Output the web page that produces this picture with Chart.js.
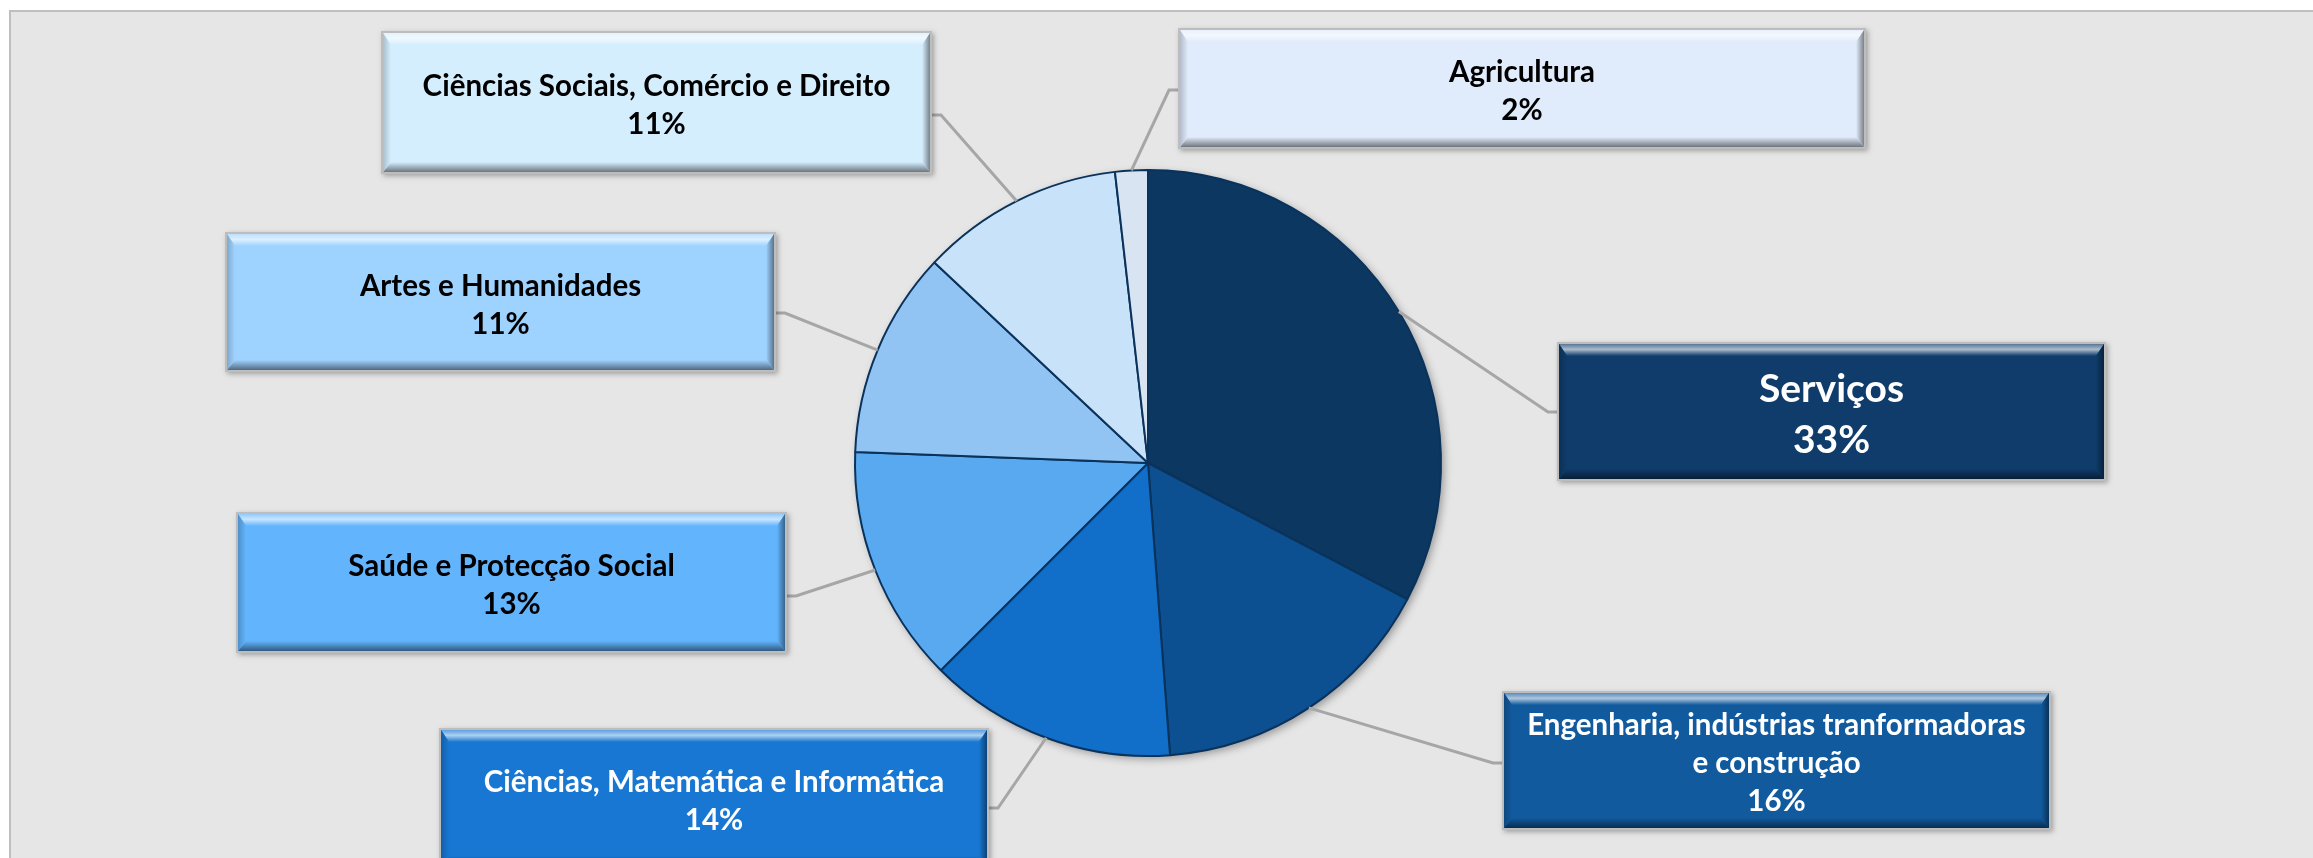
<!DOCTYPE html>
<html>
<head>
<meta charset="utf-8">
<title>Distribuição por área de formação</title>
<script src="https://cdn.jsdelivr.net/npm/chart.js@4.4.0/dist/chart.umd.min.js"></script>
<style>
  html, body { margin: 0; padding: 0; background: #ffffff; }
  #wrap { width: 2313px; height: 858px; }
</style>
</head>
<body>
<div id="wrap"><canvas id="pieChart" width="2313" height="858"></canvas></div>
<script>
// Areas, clockwise from 12 o'clock
const categories = [
    'Serviços',
    'Engenharia, indústrias tranformadoras e construção',
    'Ciências, Matemática e Informática',
    'Saúde e Protecção Social',
    'Artes e Humanidades',
    'Ciências Sociais, Comércio e Direito',
    'Agricultura'
];

// Share of each area (%)
const shares = [32.7, 16.1, 13.7, 13.1, 11.4, 11.2, 1.8];

// Colours
const sliceColors = ['#0b3761', '#0c5092', '#116fc9', '#58a9f0', '#91c3f3', '#c8e2fa', '#d9e4f2'];
const boxColors = ['#0f3c6b', '#115a9e', '#1777d2', '#62b4fd', '#9fd3ff', '#d5eefe', '#e0ebfb'];
const textColors = ['#ffffff', '#ffffff', '#ffffff', '#000000', '#000000', '#000000', '#000000'];

// Where the label boxes sit (pixels), which side the leader leaves from
const boxLayout = [
    { x: 1559, y: 344, w: 545, h: 135, side: 'left',  ay: 412, font: 39,   lh: 51, wrap: 520 },
    { x: 1504, y: 693, w: 545, h: 135, side: 'left',  ay: 763, font: 29.5, lh: 38, wrap: 518 },
    { x: 441,  y: 730, w: 546, h: 136, side: 'right', ay: 808, font: 29.5, lh: 38, wrap: 520 },
    { x: 238,  y: 514, w: 547, h: 137, side: 'right', ay: 596, font: 29.5, lh: 38, wrap: 520 },
    { x: 227,  y: 234, w: 547, h: 136, side: 'right', ay: 313, font: 29.5, lh: 38, wrap: 520 },
    { x: 383,  y: 33,  w: 547, h: 139, side: 'right', ay: 115, font: 29.5, lh: 38, wrap: 520 },
    { x: 1180, y: 30,  w: 684, h: 117, side: 'left',  ay: 90,  font: 29.5, lh: 38, wrap: 650 }
];

const FONT_FAMILY = 'Lato, "Open Sans", sans-serif';

function mix(hex, target, t) {
    const a = parseInt(hex.slice(1), 16);
    const r = (a >> 16) & 255, g = (a >> 8) & 255, b = a & 255;
    const tv = target === 'white' ? 255 : 0;
    return `rgb(${Math.round(r + (tv - r) * t)}, ${Math.round(g + (tv - g) * t)}, ${Math.round(b + (tv - b) * t)})`;
}

function poly(ctx, pts, fill) {
    ctx.beginPath();
    ctx.moveTo(pts[0][0], pts[0][1]);
    for (let i = 1; i < pts.length; i++) ctx.lineTo(pts[i][0], pts[i][1]);
    ctx.closePath();
    ctx.fillStyle = fill;
    ctx.fill();
}

function drawBevelBox(ctx, b, color) {
    const { x, y, w, h } = b;
    const bt = 12, bb = 10, bs = 8;

    // frame + soft shadow
    ctx.save();
    ctx.shadowColor = 'rgba(0, 0, 0, 0.3)';
    ctx.shadowBlur = 5;
    ctx.shadowOffsetX = 2;
    ctx.shadowOffsetY = 2;
    ctx.fillStyle = '#bdbdbd';
    ctx.fillRect(x - 2, y - 2, w + 4, h + 4);
    ctx.restore();

    ctx.fillStyle = color;
    ctx.fillRect(x, y, w, h);

    // top bevel
    let g = ctx.createLinearGradient(0, y, 0, y + bt);
    g.addColorStop(0, mix(color, 'white', 0.3));
    g.addColorStop(0.45, mix(color, 'white', 0.65));
    g.addColorStop(1, color);
    poly(ctx, [[x, y], [x + w, y], [x + w - bs, y + bt], [x + bs, y + bt]], g);

    // bottom bevel
    g = ctx.createLinearGradient(0, y + h - bb, 0, y + h);
    g.addColorStop(0, color);
    g.addColorStop(1, mix(color, 'black', 0.5));
    poly(ctx, [[x, y + h], [x + w, y + h], [x + w - bs, y + h - bb], [x + bs, y + h - bb]], g);

    // left bevel
    g = ctx.createLinearGradient(x, 0, x + bs, 0);
    g.addColorStop(0, mix(color, 'black', 0.2));
    g.addColorStop(1, color);
    poly(ctx, [[x, y], [x + bs, y + bt], [x + bs, y + h - bb], [x, y + h]], g);

    // right bevel
    g = ctx.createLinearGradient(x + w - bs, 0, x + w, 0);
    g.addColorStop(0, color);
    g.addColorStop(1, mix(color, 'black', 0.45));
    poly(ctx, [[x + w, y], [x + w - bs, y + bt], [x + w - bs, y + h - bb], [x + w, y + h]], g);
}

function wrapText(ctx, text, maxWidth) {
    const words = text.split(' ');
    const lines = [];
    let line = '';
    words.forEach(word => {
        const test = line ? line + ' ' + word : word;
        if (ctx.measureText(test).width > maxWidth && line) {
            lines.push(line);
            line = word;
        } else {
            line = test;
        }
    });
    if (line) lines.push(line);
    return lines;
}

// Grey chart area with its thin frame
const backgroundPlugin = {
    id: 'chartBackground',
    beforeDraw(chart) {
        const ctx = chart.ctx;
        ctx.save();
        ctx.fillStyle = '#ffffff';
        ctx.fillRect(0, 0, chart.width, chart.height);
        ctx.fillStyle = '#e6e6e6';
        ctx.fillRect(10, 11, chart.width, chart.height);
        ctx.strokeStyle = '#bfbfbf';
        ctx.lineWidth = 2;
        ctx.strokeRect(10, 11, chart.width + 20, chart.height + 20);
        ctx.restore();
    }
};

// Soft shadow behind the pie
const pieShadowPlugin = {
    id: 'pieShadow',
    beforeDatasetsDraw(chart) {
        const arc = chart.getDatasetMeta(0).data[0];
        if (!arc) return;
        const ctx = chart.ctx;
        ctx.save();
        ctx.shadowColor = 'rgba(0, 0, 0, 0.35)';
        ctx.shadowBlur = 8;
        ctx.shadowOffsetX = 3;
        ctx.shadowOffsetY = 3;
        ctx.beginPath();
        ctx.arc(arc.x, arc.y, arc.outerRadius, 0, Math.PI * 2);
        ctx.fillStyle = sliceColors[0];
        ctx.fill();
        ctx.restore();
    }
};

// Leader lines + bevelled label boxes
const calloutPlugin = {
    id: 'callouts',
    afterDatasetsDraw(chart) {
        const ctx = chart.ctx;
        const meta = chart.getDatasetMeta(0);
        const values = chart.data.datasets[0].data;
        const total = values.reduce((a, b) => a + b, 0);

        ctx.save();
        // leader lines first
        meta.data.forEach((arc, i) => {
            const b = boxLayout[i];
            const mid = (arc.startAngle + arc.endAngle) / 2;
            const px = arc.x + Math.cos(mid) * arc.outerRadius;
            const py = arc.y + Math.sin(mid) * arc.outerRadius;
            const bx = b.side === 'left' ? b.x : b.x + b.w;
            const kx = b.side === 'left' ? bx - 11 : bx + 11;
            ctx.beginPath();
            ctx.moveTo(bx, b.ay);
            ctx.lineTo(kx, b.ay);
            ctx.lineTo(px, py);
            ctx.strokeStyle = '#a6a6a6';
            ctx.lineWidth = 3;
            ctx.stroke();
        });

        // boxes with text
        meta.data.forEach((arc, i) => {
            const b = boxLayout[i];
            drawBevelBox(ctx, b, boxColors[i]);

            ctx.font = `bold ${b.font}px ${FONT_FAMILY}`;
            ctx.fillStyle = textColors[i];
            ctx.textAlign = 'center';
            ctx.textBaseline = 'alphabetic';
            const lines = wrapText(ctx, chart.data.labels[i], b.wrap);
            lines.push(Math.round(values[i] / total * 100) + '%');
            const cx = b.x + b.w / 2;
            const cy = b.y + b.h / 2 + 2;
            const first = cy - (lines.length - 1) * b.lh / 2 + b.font * 0.36;
            lines.forEach((ln, k) => ctx.fillText(ln, cx, first + k * b.lh));
        });
        ctx.restore();
    }
};

const ctx = document.getElementById('pieChart');
new Chart(ctx, {
    type: 'pie',
    data: {
        labels: categories,
        datasets: [{
            data: shares,
            backgroundColor: sliceColors,
            borderColor: '#0a325a',
            borderWidth: 2,
            hoverOffset: 0,
            offset: 0
        }]
    },
    options: {
        responsive: false,
        animation: false,
        events: [],
        layout: {
            padding: { top: 169, bottom: 101, left: 0, right: 17 }
        },
        plugins: {
            legend: { display: false },
            tooltip: { enabled: false }
        }
    },
    plugins: [backgroundPlugin, pieShadowPlugin, calloutPlugin]
});
</script>
</body>
</html>
